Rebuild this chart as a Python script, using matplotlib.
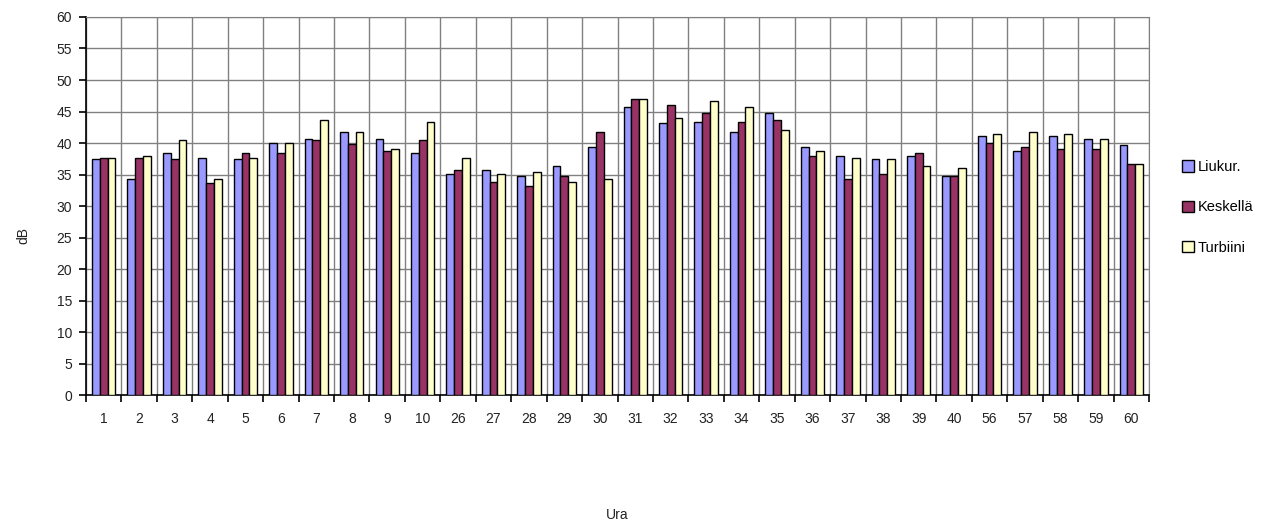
import numpy as np
import matplotlib
matplotlib.use("Agg")
import matplotlib.pyplot as plt

plt.rcParams['font.family'] = ['Liberation Sans', 'DejaVu Sans']

categories = ["1", "2", "3", "4", "5", "6", "7", "8", "9", "10",
              "26", "27", "28", "29", "30", "31", "32", "33", "34", "35",
              "36", "37", "38", "39", "40", "56", "57", "58", "59", "60"]

liukur = [37.4, 34.3, 38.4, 37.7, 37.4, 40.0, 40.7, 41.7, 40.7, 38.4,
          35.1, 35.7, 34.7, 36.4, 39.4, 45.7, 43.1, 43.3, 41.7, 44.7,
          39.4, 38.0, 37.4, 38.0, 34.7, 41.1, 38.7, 41.1, 40.7, 39.7]
keskella = [37.6, 37.7, 37.4, 33.7, 38.4, 38.4, 40.4, 39.8, 38.8, 40.4,
            35.7, 33.8, 33.1, 34.7, 41.7, 47.0, 46.0, 44.7, 43.3, 43.7,
            38.0, 34.3, 35.1, 38.4, 34.7, 40.0, 39.4, 39.0, 39.0, 36.7]
turbiini = [37.6, 38.0, 40.4, 34.3, 37.7, 40.0, 43.7, 41.7, 39.0, 43.3,
            37.7, 35.1, 35.4, 33.8, 34.3, 47.0, 44.0, 46.7, 45.7, 42.1,
            38.7, 37.7, 37.4, 36.4, 36.0, 41.4, 41.7, 41.4, 40.7, 36.7]

series = [("Liukur.", liukur, "#9999FF"),
          ("Keskellä", keskella, "#993366"),
          ("Turbiini", turbiini, "#FFFFCC")]

fig = plt.figure(figsize=(12.8, 5.31), dpi=100)
ax = fig.add_axes([0.0672, 0.256, 0.8305, 0.712])

x = np.arange(len(categories))
w = 0.22
for i, (name, vals, col) in enumerate(series):
    ax.bar(x + (i - 1) * w, vals, width=w, color=col, edgecolor="black",
           linewidth=1.0, label=name, zorder=3)

ax.set_xlim(-0.5, len(categories) - 0.5)
ax.set_ylim(0, 60)
ax.set_yticks(np.arange(0, 61, 5))
ax.set_xticks(x)
ax.set_xticklabels(categories)
ax.set_xticks(np.arange(-0.5, len(categories), 1), minor=True)
ax.tick_params(axis="x", which="major", length=0, labelsize=10, pad=12,
               labelcolor="#222222")
ax.tick_params(axis="x", which="minor", length=5, width=1.2, direction="out")
ax.tick_params(axis="y", length=5, width=1.2, direction="out", labelsize=10,
               pad=5, labelcolor="#222222")

ax.grid(True, axis="y", color="#808080", linewidth=1.0, zorder=0)
ax.grid(True, axis="x", which="minor", color="#808080", linewidth=1.0, zorder=0)
for side in ["top", "right"]:
    ax.spines[side].set_color("#808080")
for side in ["left", "bottom"]:
    ax.spines[side].set_linewidth(1.2)

fig.text(23 / 1280, 1 - 236 / 531, "dB", rotation=90, ha="center",
         va="center", fontsize=10, color="#222222")
fig.text(617 / 1280, 1 - 515 / 531, "Ura", ha="center", va="center",
         fontsize=10, color="#222222")

fig.legend(loc="upper left", bbox_to_anchor=(1182 / 1280, 1 - 160 / 531),
           frameon=False, borderpad=0, borderaxespad=0,
           handlelength=0.8, handleheight=0.8, handletextpad=0.3,
           labelspacing=1.8, fontsize=10.5)

fig.savefig("out.png", dpi=100)
